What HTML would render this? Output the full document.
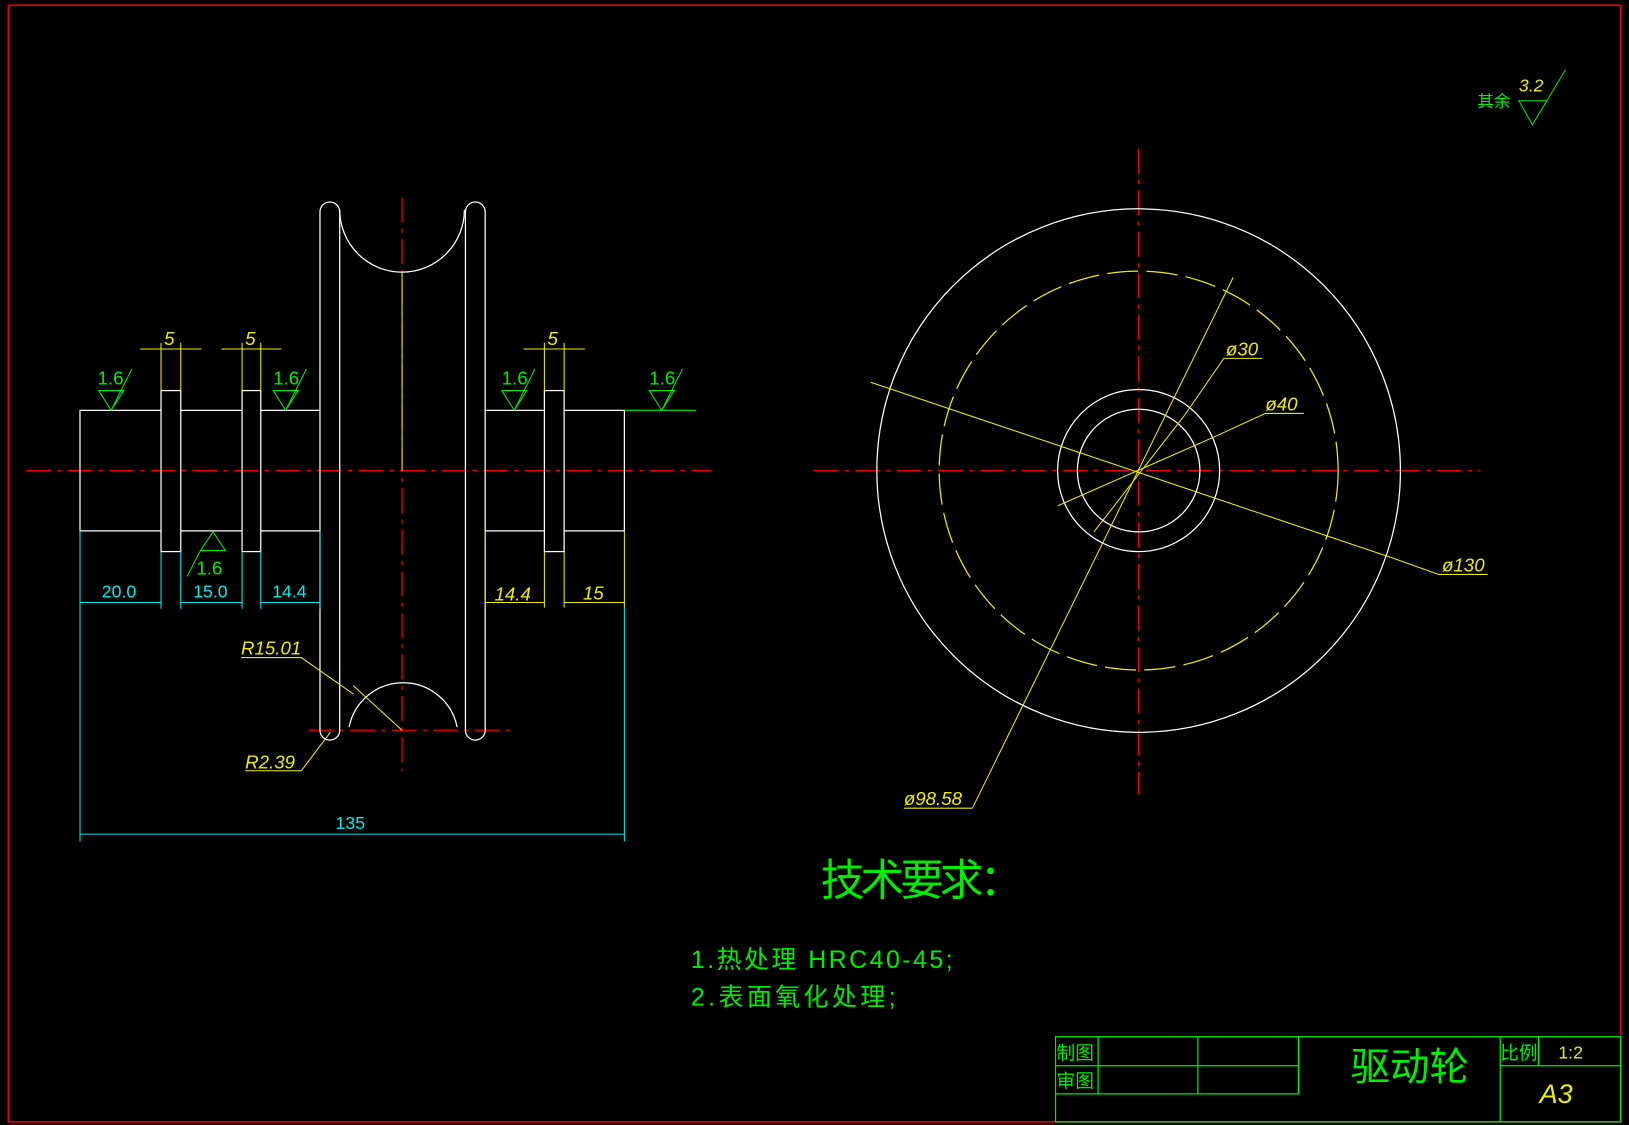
<!DOCTYPE html>
<html><head><meta charset="utf-8"><style>
html,body{margin:0;padding:0;background:#000;overflow:hidden}
svg{display:block}
text{font-family:"Liberation Sans","Noto Sans CJK SC",sans-serif}
</style></head><body>
<svg width="1629" height="1125" viewBox="0 0 1568 1083" preserveAspectRatio="none" xmlns="http://www.w3.org/2000/svg">
<rect width="1568" height="1083" fill="#000"/>
<rect x="8" y="5" width="1552" height="1075" fill="none" stroke="#e00" stroke-width="1.5"/>
<g stroke="#e00" stroke-width="1.2" stroke-dasharray="24,6,4,6" fill="none">
<line x1="25" y1="453" x2="685" y2="453"/>
<line x1="387" y1="190" x2="387" y2="742"/>
<line x1="297" y1="703" x2="497" y2="703"/>
<line x1="783" y1="453" x2="1425" y2="453"/>
<line x1="1096" y1="143" x2="1096" y2="765"/>
</g>
<g stroke="#fff" stroke-width="1.2" fill="none">
<path d="M155 395 H77 V511 H155"/>
<rect x="155" y="376" width="19" height="155"/>
<path d="M174 395 H233 M174 511 H233"/>
<rect x="233" y="376" width="18" height="155"/>
<path d="M251 395 H308 M251 511 H308"/>
<path d="M308 204 A9.5 9.5 0 0 1 327 204 V703 A9.5 9.5 0 0 1 308 703 Z"/>
<path d="M448 204 A9.5 9.5 0 0 1 467 204 V703 A9.5 9.5 0 0 1 448 703 Z"/>
<path d="M327 202 A60 60 0 0 0 447 202"/>
<path d="M336 700 A53 53 0 0 1 440 700"/>
<path d="M467 395 H524 M467 511 H524"/>
<rect x="524" y="376" width="19" height="155"/>
<path d="M543 395 H601 V511 H543"/>
<circle cx="1096" cy="453" r="252"/>
<circle cx="1096" cy="453" r="78"/>
<circle cx="1096" cy="453" r="59"/>
</g>
<circle cx="1096" cy="453" r="192" fill="none" stroke="#ee0" stroke-width="1.2" stroke-dasharray="30,8"/>
<g stroke="#ee0" stroke-width="1" fill="none">
<line x1="387" y1="262" x2="387" y2="453"/>
<line x1="340" y1="660" x2="387" y2="703"/>
<path d="M232 633 H290 L340 668"/>
<path d="M236 742 H290 L318 705"/>
<line x1="467" y1="511" x2="467" y2="585"/><line x1="524" y1="531" x2="524" y2="585"/>
<line x1="543" y1="531" x2="543" y2="585"/><line x1="601" y1="511" x2="601" y2="585"/>
<line x1="467" y1="580" x2="524" y2="580"/><line x1="543" y1="580" x2="601" y2="580"/>
<line x1="155" y1="376" x2="155" y2="330"/><line x1="174" y1="376" x2="174" y2="330"/>
<line x1="135" y1="336" x2="194" y2="336"/>
<line x1="233" y1="376" x2="233" y2="330"/><line x1="251" y1="376" x2="251" y2="330"/>
<line x1="213" y1="336" x2="271" y2="336"/>
<line x1="524" y1="376" x2="524" y2="330"/><line x1="543" y1="376" x2="543" y2="330"/>
<line x1="504" y1="336" x2="563" y2="336"/>
<line x1="838" y1="368" x2="1340" y2="537"/><path d="M1340 537 L1385 553 H1432"/>
<line x1="1187" y1="267" x2="936" y2="778"/><path d="M936 778 H870"/>
<line x1="1018" y1="487" x2="1170" y2="420"/><path d="M1170 420 L1218 398 H1255"/>
<line x1="1053" y1="512" x2="1140" y2="400"/><path d="M1140 400 L1178 345 H1215"/>
</g>
<g fill="#ee0" font-style="italic" font-size="18">
<text x="232" y="630">R15.01</text>
<text x="236" y="740">R2.39</text>
<text x="476" y="578">14.4</text>
<text x="561" y="577">15</text>
<text x="158" y="332">5</text><text x="236" y="332">5</text><text x="527" y="332">5</text>
<text x="1388" y="550">ø130</text>
<text x="870" y="775">ø98.58</text>
<text x="1218" y="395">ø40</text>
<text x="1180" y="342">ø30</text>
<text x="1462" y="88" font-size="17">3.2</text>
</g>
<g stroke="#0ee" stroke-width="1" fill="none">
<line x1="77" y1="511" x2="77" y2="810"/><line x1="601" y1="585" x2="601" y2="810"/>
<line x1="155" y1="531" x2="155" y2="586"/><line x1="174" y1="531" x2="174" y2="586"/>
<line x1="233" y1="531" x2="233" y2="586"/><line x1="251" y1="531" x2="251" y2="586"/>
<line x1="308" y1="511" x2="308" y2="586"/>
<line x1="77" y1="580" x2="155" y2="580"/><line x1="174" y1="580" x2="233" y2="580"/><line x1="251" y1="580" x2="308" y2="580"/>
<line x1="77" y1="803" x2="601" y2="803"/>
</g>
<g fill="#0ee" font-size="17">
<text x="98" y="575">20.0</text><text x="186" y="575">15.0</text><text x="262" y="575">14.4</text>
<text x="323" y="798">135</text>
</g>
<g stroke="#0e0" stroke-width="1" fill="none">
<path d="M95 376 L107 395 L119 376 Z M107 395 L127 355"/>
<path d="M263 376 L275 395 L287 376 Z M275 395 L295 355"/>
<path d="M483 376 L495 395 L507 376 Z M495 395 L515 355"/>
<path d="M625 376 L637 395 L649 376 Z M637 395 L657 355 M601 395 H670"/>
<path d="M193 530 L205 512 L217 530 Z M193 530 L180 555"/>
<path d="M1462 97 L1475 120 L1489 97 Z M1475 120 L1507 67"/>
</g>
<g fill="#0e0" font-size="18">
<text x="94" y="370">1.6</text><text x="263" y="370">1.6</text><text x="483" y="370">1.6</text><text x="625" y="370">1.6</text>
<text x="189" y="553">1.6</text>
<text x="1422" y="103" font-size="16">其余</text>
<text x="790" y="862" font-size="42" textLength="195">技术要求：</text>
<text x="665" y="932" font-size="24" textLength="252">1.热处理  HRC40-45;</text>
<text x="665" y="968" font-size="24" textLength="197">2.表面氧化处理;</text>
</g>
<g stroke="#0e0" stroke-width="1.2" fill="none">
<rect x="1016" y="998" width="544" height="82"/>
<line x1="1016" y1="1026" x2="1250" y2="1026"/>
<line x1="1016" y1="1053" x2="1250" y2="1053"/>
<line x1="1444" y1="1026" x2="1560" y2="1026"/>
<line x1="1057" y1="998" x2="1057" y2="1053"/>
<line x1="1153" y1="998" x2="1153" y2="1053"/>
<line x1="1250" y1="998" x2="1250" y2="1053"/>
<line x1="1444" y1="998" x2="1444" y2="1080"/>
<line x1="1481" y1="998" x2="1481" y2="1026"/>
</g>
<g fill="#0e0">
<text x="1017" y="1020" font-size="18">制图</text>
<text x="1017" y="1047" font-size="18">审图</text>
<text x="1300" y="1040" font-size="38">驱动轮</text>
<text x="1444" y="1020" font-size="18">比例</text>
<text x="1500" y="1019" font-size="17" fill="#ee0">1:2</text>
</g>
<text x="1482" y="1062" font-size="26" font-style="italic" fill="#ee0">A3</text>
</svg>
</body></html>
